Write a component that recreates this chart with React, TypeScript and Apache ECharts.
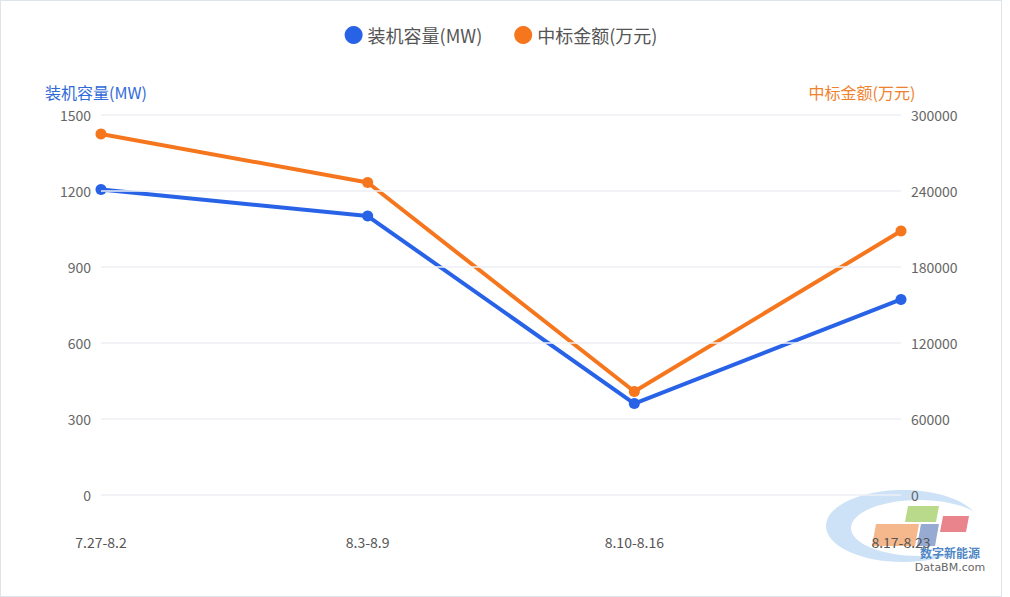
import React, { useEffect, useRef } from "react";
import * as echarts from "echarts";

const categories = ["7.27-8.2", "8.3-8.9", "8.10-8.16", "8.17-8.23"];
const capacityMW = [1206, 1101, 361, 772];
const bidAmount = [285000, 246700, 81700, 208400];
const leftTicks = { min: 0, max: 1500, interval: 300 };
const rightTicks = { min: 0, max: 300000, interval: 60000 };

const BLUE = "#2862e6";
const ORANGE = "#f5761d";
const FONT = "'Noto Sans CJK SC', 'Noto Sans', sans-serif";

export default function App() {
  const ref = useRef<HTMLDivElement>(null);
  useEffect(() => {
    document.body.style.margin = "0";
    if (!ref.current) return;
    const chart = echarts.init(ref.current, undefined, { renderer: "svg" });
    chart.setOption({
      animation: false,
      textStyle: { fontFamily: FONT },
      legend: {
        left: "center",
        top: 20,
        icon: "circle",
        itemWidth: 18,
        itemHeight: 18,
        itemGap: 32,
        textStyle: { fontSize: 18, color: "#555", fontFamily: FONT },
        data: ["装机容量(MW)", "中标金额(万元)"],
      },
      grid: { left: 100, right: 100, top: 114, bottom: 101, containLabel: false },
      xAxis: {
        type: "category",
        data: categories,
        boundaryGap: false,
        z: 5,
        axisLine: { show: false },
        axisTick: { show: false },
        axisLabel: { color: "#555", fontSize: 14, margin: 40, fontFamily: FONT },
        splitLine: { show: false },
      },
      yAxis: [
        {
          type: "value",
          name: "装机容量(MW)",
          nameGap: 15,
          nameTextStyle: { color: "#2f6ad9", fontSize: 16, padding: [0, 10, 0, 0], fontFamily: FONT },
          min: leftTicks.min,
          max: leftTicks.max,
          interval: leftTicks.interval,
          z: 5,
          axisLine: { show: false },
          axisTick: { show: false },
          axisLabel: { color: "#666", fontSize: 14, margin: 10, fontFamily: FONT, formatter: (v: number) => String(v) },
          splitLine: { show: true, lineStyle: { color: "#eceff4", width: 1.5 } },
        },
        {
          type: "value",
          name: "中标金额(万元)",
          nameGap: 15,
          nameTextStyle: { color: "#f0822e", fontSize: 16, padding: [0, 78, 0, 0], fontFamily: FONT },
          min: rightTicks.min,
          max: rightTicks.max,
          interval: rightTicks.interval,
          z: 5,
          axisLine: { show: false },
          axisTick: { show: false },
          axisLabel: { color: "#666", fontSize: 14, margin: 10, fontFamily: FONT, formatter: (v: number) => String(v) },
          splitLine: { show: false },
        },
      ],
      series: [
        {
          name: "装机容量(MW)",
          type: "line",
          yAxisIndex: 0,
          data: capacityMW,
          symbol: "circle",
          symbolSize: 11,
          itemStyle: { color: BLUE },
          lineStyle: { color: BLUE, width: 4 },
          z: 3,
        },
        {
          name: "中标金额(万元)",
          type: "line",
          yAxisIndex: 1,
          data: bidAmount,
          symbol: "circle",
          symbolSize: 11,
          itemStyle: { color: ORANGE },
          lineStyle: { color: ORANGE, width: 4 },
          z: 3,
        },
      ],
      graphic: [
        { type: "ellipse", z: -5, shape: { cx: 902, cy: 525, rx: 77, ry: 36 }, style: { fill: "#cde2f6" } },
        { type: "ellipse", z: -4, shape: { cx: 918, cy: 527, rx: 68, ry: 28 }, style: { fill: "#ffffff" } },
        { type: "polygon", z: -3, shape: { points: [[907, 505], [938, 505], [935, 521], [904, 521]] }, style: { fill: "#b9d98b" } },
        { type: "polygon", z: -3, shape: { points: [[942, 515], [968, 515], [965, 531], [939, 531]] }, style: { fill: "#e9848d" } },
        { type: "polygon", z: -3, shape: { points: [[875, 523], [918, 523], [914, 545], [871, 545]] }, style: { fill: "#f5b88c" } },
        { type: "polygon", z: -3, shape: { points: [[920, 523], [938, 523], [934, 545], [916, 545]] }, style: { fill: "#96aad2" } },
        {
          type: "text", z: -2, x: 949, y: 551,
          style: { text: "数字新能源", fill: "#4f86c4", fontSize: 12, fontWeight: "bold", align: "center", verticalAlign: "middle", fontFamily: FONT },
        },
        {
          type: "text", z: -2, x: 949, y: 566,
          style: { text: "DataBM.com", fill: "#666", fontSize: 11, align: "center", verticalAlign: "middle", fontFamily: "'DejaVu Sans', sans-serif" },
        },
      ],
    });
    return () => chart.dispose();
  }, []);
  return (
    <div
      style={{
        width: 1002,
        height: 597,
        boxSizing: "border-box",
        border: "1px solid #dde4ec",
        background: "#fff",
      }}
    >
      <div ref={ref} style={{ width: 1000, height: 595 }} />
    </div>
  );
}
